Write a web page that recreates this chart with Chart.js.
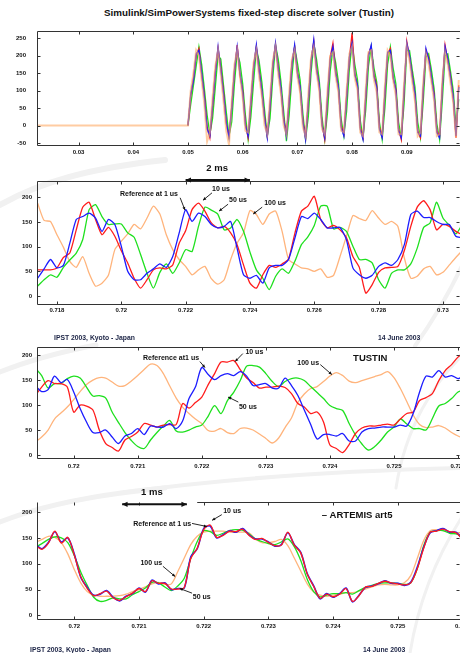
<!DOCTYPE html>
<html>
<head>
<meta charset="utf-8">
<script src="https://cdn.jsdelivr.net/npm/chart.js@4.4.1/dist/chart.umd.min.js"></script>
<style>
  html, body { margin: 0; padding: 0; background: #fff; width: 460px; height: 653px; overflow: hidden; position: relative; font-family: "Liberation Sans", Arial, sans-serif; }
  canvas, svg { position: absolute; left: 0; }
  .txt { position: absolute; white-space: nowrap; color: #111; line-height: 10px; }
  .foot { font-size: 6.8px; font-weight: bold; color: #1a2244; }
</style>
</head>
<body>
<!-- faint slide-template swooshes -->
<svg width="460" height="653" style="top:0">
  <g fill="none" stroke="#f1f1f1" stroke-linecap="round">
    <path d="M0,205 C40,182 90,168 165,160" stroke-width="6"/>
    <path d="M470,248 C452,290 432,322 415,346" stroke-width="4"/>
    <path d="M0,372 C30,360 60,352 96,345" stroke-width="5"/>
    <path d="M120,493 C220,479 330,471 460,468" stroke-width="4"/>
    <path d="M470,348 C432,382 405,430 396,488" stroke-width="3"/>
    <path d="M0,522 C40,506 90,495 165,488" stroke-width="5"/>
    <path d="M470,505 C442,545 420,592 410,653" stroke-width="3"/>
  </g>
</svg>
<div class="txt" style="left:249px; top:8px; transform:translateX(-50%); font-weight:bold; font-size:9.8px;">Simulink/SimPowerSystems fixed-step discrete solver (Tustin)</div>
<canvas id="c1" width="500" height="148" style="top:16px"></canvas>
<canvas id="c2" width="500" height="164" style="top:159px"></canvas>
<canvas id="c3" width="500" height="139" style="top:338px"></canvas>
<canvas id="c4" width="500" height="158" style="top:480px"></canvas>
<div class="txt foot" style="left:54px; top:333px;">IPST 2003, Kyoto - Japan</div>
<div class="txt foot" style="left:378px; top:333px;">14 June 2003</div>
<div class="txt foot" style="left:30px; top:645px;">IPST 2003, Kyoto - Japan</div>
<div class="txt foot" style="left:363px; top:645px;">14 June 2003</div>
<script>
// ---- panel 1 : whole run, samples every 0.5 ms from t = 0.05 s
const p1T0 = 0.05, p1Dt = 0.0005, p1PreT = 0.02;
const p1XTicks = [0.03, 0.04, 0.05, 0.06, 0.07, 0.08, 0.09];
const p1YTicks = [-50, 0, 50, 100, 150, 200, 250];
const p1Blue = [0, 90, 130, 205, 215, 150, 80, -10, -30, 60, 150,
  225, 160, 90, 10, -35, 50, 160,
  225, 150, 95, 0, -30, 70, 165,
  230, 155, 100, 20, -35, 60, 170,
  235, 160, 105, 15, -30, 75, 175,
  230, 150, 110, 10, -40, 70, 180,
  245, 160, 115, 0, -35, 80, 190,
  225, 150, 110, -5, -30, 80, 195,
  235, 145, 115, -10, -40, 85, 200,
  230, 140, 110, -10, -35, 95, 210,
  215, 140, 100, -15, -35, 100,
  235, 200, 140, 90, -20, -30, 105,
  220, 190, 140, 85, -20, -35, 110,
  225, 190, 135, 80, -30, 110];
const p1Red = [0, 85, 135, 200, 220, 145, 85, -5, -35, 55, 155,
  220, 165, 95, 5, -30, 55, 155,
  230, 145, 100, 5, -35, 65, 170,
  225, 160, 95, 25, -30, 55, 175,
  230, 165, 100, 20, -25, 70, 180,
  225, 155, 105, 15, -35, 65, 185,
  240, 165, 110, 5, -40, 75, 195,
  235, 155, 105, 0, -25, 85, 190,
  265, 150, 110, -5, -35, 80, 205,
  225, 145, 115, -5, -30, 90, 205,
  220, 135, 105, -10, -40, 95,
  240, 195, 145, 85, -15, -35, 100,
  215, 195, 135, 90, -15, -30, 115,
  230, 185, 140, 75, -35, 115];
const p1Green = [0, 60, 115, 170, 225, 175, 105, 30, -25, 20, 110,
  200, 190, 115, 40, -30, 10, 120,
  210, 180, 120, 30, -40, 25, 125,
  220, 185, 125, 45, -30, 20, 135,
  230, 190, 125, 40, -45, 30, 140,
  225, 180, 130, 35, -40, 25, 150,
  235, 190, 130, 25, -40, 35, 155,
  220, 180, 125, 20, -30, 40, 160,
  235, 175, 130, 15, -35, 45, 170,
  225, 165, 125, 10, -40, 50, 175,
  225, 165, 120, 10, -35, 60,
  215, 215, 160, 110, 10, -35, 65,
  195, 205, 160, 105, 5, -40, 70,
  200, 205, 155, 100, -5, 75];
const p1Orange = [0, 100, 150, 215, 200, 130, 60, -45, -20, 80, 170,
  215, 145, 70, -15, -55, 70, 175,
  215, 140, 80, -15, -20, 85, 180,
  215, 140, 85, 0, -25, 80, 185,
  225, 145, 90, 0, -25, 95, 190,
  215, 140, 95, -5, -30, 90, 195,
  225, 150, 100, -10, -25, 100, 200,
  210, 140, 95, -15, -20, 100, 205,
  225, 135, 100, -20, -30, 105, 210,
  215, 130, 95, -20, -25, 115, 215,
  200, 130, 85, -25, -25, 120,
  225, 185, 125, 70, -30, -20, 125,
  205, 175, 125, 70, -30, -25, 130,
  210, 175, 120, 65, -35, 130];

// ---- panel 2 : Tustin, samples every 0.2 ms from 0.7174 s
const p2T0 = 0.7174, p2Dt = 0.0002;
const p2XTicks = [0.718, 0.72, 0.722, 0.724, 0.726, 0.728, 0.73];
const p2YTicks = [0, 50, 100, 150, 200];
const p2Blue = [36, 55, 74, 57, 62, 107, 155, 161, 168, 158, 131, 155, 145, 101, 50, 33, 33, 46, 55, 65, 58, 80, 128, 175, 151, 168, 161, 145, 138, 141, 151, 97, 43,
  36, 42, 26, 57, 62, 62, 74, 118, 161, 157, 168, 155, 138, 138, 139, 114, 57, 43, 36, 42, 60, 67, 62, 74, 104, 165, 172, 159, 159, 151, 145, 145, 121, 118];
const p2Red = [53, 53, 53, 57, 78, 87, 134, 180, 190, 155, 124, 139, 121, 92, 67, 36, 16, 33, 53, 57, 55, 63, 107, 132, 175, 188, 172, 148, 138, 141, 128, 104, 63,
  26, 16, 43, 62, 58, 65, 75, 128, 172, 182, 202, 155, 138, 143, 134, 118, 80, 58, 6, 23, 48, 57, 58, 60, 92, 141, 180, 193, 175, 134, 145, 141, 131, 124];
const p2Green = [20, 33, 43, 38, 58, 73, 87, 114, 175, 185, 161, 145, 146, 146, 128, 119, 84, 46, 16, 48, 65, 46, 67, 94, 90, 141, 180, 174, 166, 134, 138, 155, 131,
  89, 53, 36, 13, 40, 55, 46, 71, 104, 120, 143, 182, 182, 136, 139, 131, 101, 74, 74, 67, 33, 16, 46, 53, 53, 65, 97, 139, 148, 190, 158, 143, 126, 145];
const p2Orange = [188, 153, 151, 124, 99, 70, 58, 80, 46, 20, 26, 42, 94, 111, 126, 145, 136, 158, 182, 166, 124, 94, 74, 60, 43, 53, 60, 35, 24, 33, 74, 107, 128,
  173, 165, 145, 166, 172, 131, 74, 65, 57, 55, 50, 55, 38, 42, 80, 121, 163, 157, 153, 173, 158, 145, 151, 141, 77, 36, 40, 55, 60, 43, 48, 63, 78, 92];

// ---- panel 3 : Tustin zoom, samples every 0.1 ms from 0.7194 s
const p3T0 = 0.7194, p3Dt = 0.0001;
const p3XTicks = [0.72, 0.721, 0.722, 0.723, 0.724, 0.725, 0.726];
const p3YTicks = [0, 50, 100, 150, 200];
const p3Blue = [139, 127, 131, 158, 145, 151, 126, 93, 66, 45, 45, 50, 36, 23, 38, 43, 53, 41, 58, 56, 56, 63, 53, 68, 113, 136, 175, 161, 151, 159, 163, 159, 167, 158,
  139, 141, 143, 134, 134, 154, 139, 119, 90, 61, 32, 41, 41, 38, 43, 28, 28, 46, 53, 54, 56, 56, 56, 60, 58, 83, 126, 158, 156, 169, 156, 159, 153, 159];
const p3Red = [119, 136, 149, 143, 143, 136, 86, 100, 98, 90, 50, 23, 15, 8, 30, 37, 46, 63, 60, 56, 60, 61, 61, 103, 94, 105, 116, 141, 163, 186, 186, 189, 171, 154,
  145, 134, 136, 136, 138, 135, 123, 103, 96, 83, 86, 66, 20, 13, 5, 21, 43, 54, 58, 58, 60, 62, 60, 72, 83, 86, 109, 115, 123, 149, 169, 181, 196, 206];
const p3Green = [174, 159, 134, 143, 143, 153, 158, 154, 136, 118, 119, 114, 86, 65, 45, 29, 17, 13, 30, 45, 58, 69, 48, 46, 50, 56, 60, 78, 99, 83, 109, 126, 149, 178,
  179, 176, 163, 147, 137, 147, 153, 154, 149, 137, 125, 113, 99, 93, 89, 63, 40, 22, 10, 17, 30, 46, 56, 72, 62, 53, 53, 50, 73, 98, 103, 113, 126, 131];
const p3Orange = [26, 36, 50, 72, 84, 96, 111, 127, 141, 150, 155, 154, 146, 138, 139, 148, 159, 171, 182, 179, 163, 138, 114, 96, 83, 72, 63, 49, 48, 53, 45, 43, 53, 54,
  50, 42, 33, 24, 34, 55, 74, 105, 122, 133, 137, 147, 158, 165, 159, 148, 145, 149, 153, 157, 161, 167, 155, 133, 107, 80, 61, 55, 56, 59, 54, 45, 38, 33];

// ---- panel 4 : ARTEMIS art5, samples every 0.1 ms from 0.7194 s
const p4T0 = 0.7194, p4Dt = 0.0001;
const p4XTicks = [0.72, 0.721, 0.722, 0.723, 0.724, 0.725, 0.726];
const p4YTicks = [0, 50, 100, 150, 200];
const p4Blue = [137, 129, 141, 162, 142, 150, 119, 74, 54, 39, 41, 48, 35, 28, 37, 42, 53, 45, 68, 61, 63, 50, 52, 53, 113, 129, 168, 173, 150, 156, 164, 161, 168, 156,
  148, 148, 142, 134, 137, 160, 137, 122, 81, 57, 32, 42, 35, 42, 53, 26, 39, 54, 57, 61, 67, 62, 62, 58, 64, 93, 132, 160, 164, 168, 161, 161, 148];
const p4Red = [135, 128, 140, 163, 140, 151, 117, 75, 52, 38, 42, 47, 34, 29, 36, 43, 52, 46, 67, 62, 62, 51, 51, 54, 110, 130, 166, 175, 151, 155, 163, 162, 167, 155,
  147, 149, 141, 135, 136, 161, 136, 121, 80, 56, 33, 41, 36, 41, 52, 27, 38, 55, 56, 62, 66, 63, 61, 59, 63, 90, 130, 161, 163, 167, 162, 160, 147];
const p4Green = [132, 139, 147, 152, 150, 141, 116, 84, 58, 35, 27, 29, 34, 32, 32, 40, 46, 53, 64, 63, 55, 48, 57, 72, 110, 143, 164, 162, 155, 159, 164, 166, 165, 158,
  148, 143, 139, 137, 142, 148, 133, 106, 70, 46, 36, 39, 42, 42, 44, 41, 48, 54, 58, 62, 63, 63, 62, 60, 63, 90, 135, 161, 164, 164, 159, 158, 153];
const p4Orange = [141, 147, 153, 151, 141, 119, 89, 63, 46, 39, 37, 37, 37, 38, 41, 46, 50, 55, 61, 64, 60, 61, 85, 111, 137, 153, 161, 163, 163, 163, 161, 161, 161, 160,
  148, 141, 141, 143, 147, 135, 111, 86, 61, 45, 39, 37, 39, 41, 44, 44, 47, 51, 55, 59, 60, 59, 59, 63, 77, 110, 145, 164, 166, 164, 161, 160, 160];

const BLUE = '#1c1cff', RED = '#ff1c1c', GREEN = '#1ee01e', ORANGE = '#ffb47c';
const tickFont = { family: 'Liberation Sans', size: 6, weight: 'bold' };
const noteFont = 'bold 7px "Liberation Sans"';
const bigFont = 'bold 9.5px "Liberation Sans"';

function series(t0, dt, vals) {
  return vals.map((v, i) => ({ x: +(t0 + i * dt).toFixed(5), y: v }));
}

function line(data, color, width, tension) {
  return { data, borderColor: color, borderWidth: width, tension, fill: false, pointRadius: 0 };
}

function arrow(ctx, x1, y1, x2, y2, head, both) {
  const ang = Math.atan2(y2 - y1, x2 - x1);
  ctx.beginPath(); ctx.moveTo(x1, y1); ctx.lineTo(x2, y2); ctx.stroke();
  const tip = (x, y, a) => {
    ctx.beginPath();
    ctx.moveTo(x, y);
    ctx.lineTo(x - head * Math.cos(a - 0.45), y - head * Math.sin(a - 0.45));
    ctx.lineTo(x - head * Math.cos(a + 0.45), y - head * Math.sin(a + 0.45));
    ctx.closePath(); ctx.fill();
  };
  tip(x2, y2, ang);
  if (both) tip(x1, y1, ang + Math.PI);
}

// box, inward ticks, labels and arrows
const overlay = {
  id: 'overlay',
  afterDraw(chart, args, opts) {
    const { ctx, chartArea: a, scales: { x, y } } = chart;
    ctx.save();
    ctx.strokeStyle = '#333'; ctx.fillStyle = '#111'; ctx.lineWidth = 1;
    const L = Math.round(a.left) + 0.5, R = Math.round(a.right) - 0.5;
    const T = Math.round(a.top) + 0.5, B = Math.round(a.bottom) - 0.5;
    const topStart = opts.topFrom != null ? x.getPixelForValue(opts.topFrom) : L;
    ctx.beginPath();
    ctx.moveTo(topStart, T); ctx.lineTo(R + 1, T);
    ctx.moveTo(L, T); ctx.lineTo(L, B); ctx.lineTo(R + 1, B);
    x.ticks.forEach(t => {
      const px = Math.round(x.getPixelForValue(t.value)) + 0.5;
      ctx.moveTo(px, B); ctx.lineTo(px, B - 3);
      ctx.moveTo(px, T); ctx.lineTo(px, T + 3);
    });
    y.ticks.forEach(t => {
      const py = Math.round(y.getPixelForValue(t.value)) + 0.5;
      ctx.moveTo(L, py); ctx.lineTo(L + 3, py);
      ctx.moveTo(R, py); ctx.lineTo(R - 3, py);
    });
    ctx.stroke();
    ctx.strokeStyle = '#111';
    (opts.arrows || []).forEach(r => {
      ctx.lineWidth = r.w || 0.9;
      arrow(ctx, x.getPixelForValue(r.x1), y.getPixelForValue(r.y1),
        x.getPixelForValue(r.x2), y.getPixelForValue(r.y2), r.head || 3.5, r.both);
    });
    ctx.textAlign = 'center'; ctx.textBaseline = 'middle';
    (opts.labels || []).forEach(l => {
      ctx.font = l.big ? bigFont : noteFont;
      ctx.fillText(l.text, x.getPixelForValue(l.x), y.getPixelForValue(l.y));
    });
    ctx.restore();
  }
};

function makeChart(id, c) {
  return new Chart(document.getElementById(id), {
    type: 'line',
    data: { datasets: c.sets },
    options: {
      responsive: false, animation: false, devicePixelRatio: 1,
      layout: { padding: { top: c.padTop, right: 40, left: 0, bottom: 0 } },
      plugins: { legend: { display: false }, tooltip: { enabled: false }, overlay: c.overlay || {} },
      scales: {
        x: {
          type: 'linear', min: c.xMin, max: c.xMax,
          grid: { display: false, drawTicks: false }, border: { display: false },
          afterBuildTicks: s => { s.ticks = c.xTicks.map(v => ({ value: v })); },
          afterFit: s => { s.height = 18; },
          ticks: { padding: c.xPad, font: tickFont, color: '#111', maxRotation: 0, autoSkip: false,
            callback: v => String(+v.toFixed(3)) }
        },
        y: {
          min: c.yMin, max: c.yMax,
          grid: { display: false, drawTicks: false }, border: { display: false },
          afterBuildTicks: s => { s.ticks = c.yTicks.map(v => ({ value: v })); },
          afterFit: s => { s.width = 37; },
          ticks: { padding: c.yPad, font: tickFont, color: '#111', callback: v => String(v) }
        }
      }
    },
    plugins: [overlay]
  });
}

makeChart('c1', {
  padTop: 6, xMin: 0.0224, xMax: 0.09973, yMin: -58.5, yMax: 271.3,
  xTicks: p1XTicks, yTicks: p1YTicks, xPad: 2.5, yPad: 11,
  sets: [
    line([{ x: p1PreT, y: 0 }].concat(series(p1T0, p1Dt, p1Orange)), 'rgba(255,170,100,0.6)', 2, 0),
    line(series(p1T0, p1Dt, p1Blue), BLUE, 1.3, 0),
    line(series(p1T0, p1Dt, p1Red), RED, 1.3, 0),
    line(series(p1T0, p1Dt, p1Green), GREEN, 1.3, 0)
  ]
});

makeChart('c2', {
  padTop: 22, xMin: 0.71738, xMax: 0.73053, yMin: -18.2, yMax: 233,
  xTicks: p2XTicks, yTicks: p2YTicks, xPad: 2, yPad: 5,
  sets: [
    line(series(p2T0, p2Dt, p2Blue), BLUE, 1.3, 0.2),
    line(series(p2T0, p2Dt, p2Red), RED, 1.3, 0.2),
    line(series(p2T0, p2Dt, p2Green), GREEN, 1.3, 0.2),
    line(series(p2T0, p2Dt, p2Orange), ORANGE, 1.3, 0.2)
  ],
  overlay: {
    labels: [
      { text: '2 ms', x: 0.72298, y: 259, big: true },
      { text: 'Reference at 1 us', x: 0.72086, y: 207 },
      { text: '10 us', x: 0.72310, y: 217 },
      { text: '50 us', x: 0.72363, y: 194 },
      { text: '100 us', x: 0.72478, y: 188 }
    ],
    arrows: [
      { x1: 0.722, y1: 235, x2: 0.724, y2: 235, both: true, w: 2, head: 6 },
      { x1: 0.72183, y1: 199, x2: 0.72198, y2: 174 },
      { x1: 0.72282, y1: 209, x2: 0.72254, y2: 194 },
      { x1: 0.72332, y1: 186, x2: 0.72304, y2: 172 },
      { x1: 0.72438, y1: 180, x2: 0.72410, y2: 166 }
    ]
  }
});

makeChart('c3', {
  padTop: 8, xMin: 0.719427, xMax: 0.726031, yMin: -8, yMax: 217,
  xTicks: p3XTicks, yTicks: p3YTicks, xPad: 3.5, yPad: 5,
  sets: [
    line(series(p3T0, p3Dt, p3Blue), BLUE, 1.3, 0.3),
    line(series(p3T0, p3Dt, p3Red), RED, 1.3, 0.3),
    line(series(p3T0, p3Dt, p3Green), GREEN, 1.3, 0.3),
    line(series(p3T0, p3Dt, p3Orange), ORANGE, 1.3, 0.3)
  ],
  overlay: {
    labels: [
      { text: 'Reference at1 us', x: 0.72152, y: 195 },
      { text: '10 us', x: 0.72282, y: 207 },
      { text: 'TUSTIN', x: 0.72463, y: 193, big: true },
      { text: '100 us', x: 0.72366, y: 185 },
      { text: '50 us', x: 0.72272, y: 96 }
    ],
    arrows: [
      { x1: 0.72197, y1: 187, x2: 0.72205, y2: 175 },
      { x1: 0.72264, y1: 203, x2: 0.72252, y2: 187 },
      { x1: 0.72385, y1: 181, x2: 0.72403, y2: 161 },
      { x1: 0.72257, y1: 106, x2: 0.72241, y2: 116 }
    ]
  }
});

makeChart('c4', {
  padTop: 22, xMin: 0.719424, xMax: 0.725961, yMin: -9, yMax: 219.5,
  xTicks: p4XTicks, yTicks: p4YTicks, xPad: 3, yPad: 5,
  sets: [
    line(series(p4T0, p4Dt, p4Red), RED, 1.3, 0.3),
    line(series(p4T0, p4Dt, p4Blue), BLUE, 1.6, 0.3),
    line(series(p4T0, p4Dt, p4Green), GREEN, 1.3, 0.3),
    line(series(p4T0, p4Dt, p4Orange), ORANGE, 1.3, 0.3)
  ],
  overlay: {
    topFrom: 0.7219,
    labels: [
      { text: '1 ms', x: 0.72120, y: 238, big: true },
      { text: '\u2013 ARTEMIS art5', x: 0.72437, y: 193, big: true },
      { text: '10 us', x: 0.72244, y: 201 },
      { text: 'Reference at 1 us', x: 0.72136, y: 177 },
      { text: '100 us', x: 0.72119, y: 102 },
      { text: '50 us', x: 0.72197, y: 35 }
    ],
    arrows: [
      { x1: 0.72074, y1: 215, x2: 0.72174, y2: 215, both: true, w: 2, head: 6 },
      { x1: 0.72228, y1: 195, x2: 0.72213, y2: 184 },
      { x1: 0.72182, y1: 178, x2: 0.72205, y2: 172 },
      { x1: 0.72137, y1: 95, x2: 0.72156, y2: 75 },
      { x1: 0.72182, y1: 43, x2: 0.72163, y2: 52 }
    ]
  }
});
</script>
</body>
</html>
